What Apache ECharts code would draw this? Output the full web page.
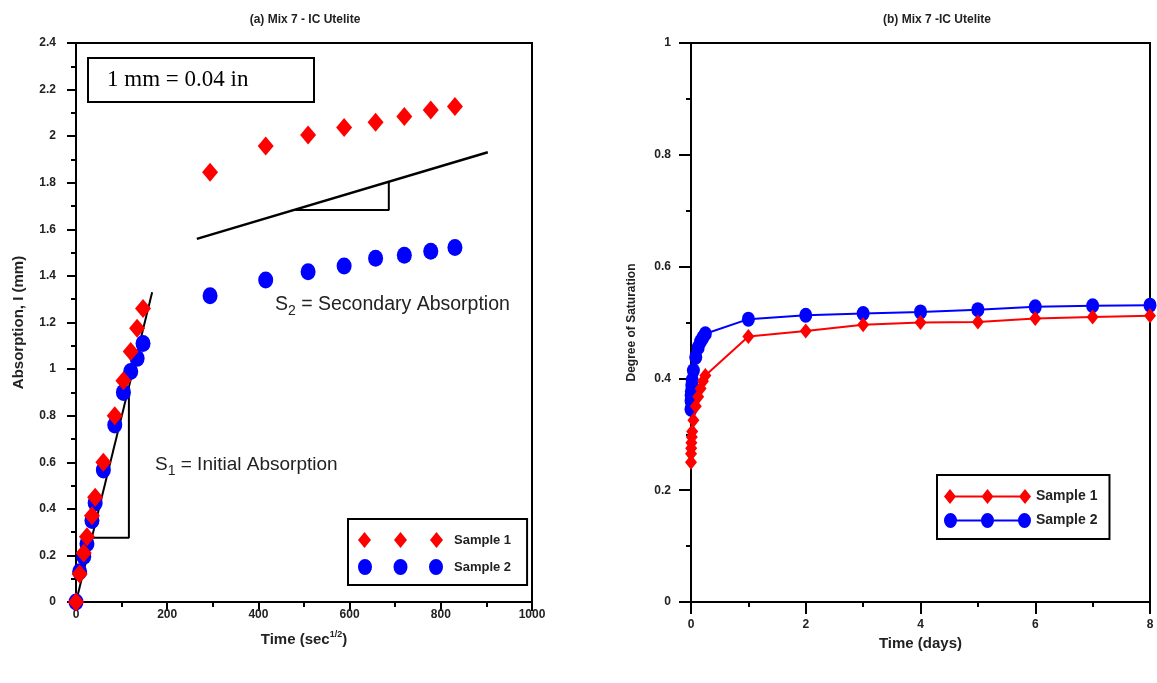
<!DOCTYPE html>
<html>
<head>
<meta charset="utf-8">
<script src="https://cdn.jsdelivr.net/npm/echarts@6/dist/echarts.min.js"></script>
<style>
  html, body { margin: 0; padding: 0; background: #fff; }
  #chart { width: 1157px; height: 683px; }
</style>
</head>
<body>
<div id="chart"></div>
<script>
// (a) Absorption against square root of time
const timeSqrtSec = [0, 8, 17, 24, 35, 42, 60, 85, 104, 120, 134, 147, 294, 416, 509, 588, 657, 720, 778, 831];
const absorptionS1 = [0, 0.12, 0.21, 0.28, 0.37, 0.45, 0.60, 0.80, 0.95, 1.075, 1.175, 1.26, 1.845, 1.958, 2.005, 2.037, 2.06, 2.084, 2.112, 2.127];
const absorptionS2 = [0, 0.13, 0.195, 0.25, 0.35, 0.425, 0.567, 0.76, 0.90, 0.99, 1.046, 1.11, 1.315, 1.382, 1.418, 1.443, 1.476, 1.489, 1.506, 1.522];

// slope guides for the initial and secondary absorption rates
const initialFit = [[0, 0], [167, 1.33]];
const initialTriangle = [[30, 0.276], [116, 0.276], [116, 0.925]];
const secondaryFit = [[265, 1.559], [903, 1.931]];
const secondaryTriangle = [[475, 1.683], [686, 1.683], [686, 1.806]];

// (b) Degree of saturation against time in days
const timeDays = [0, 0.001, 0.003, 0.007, 0.014, 0.021, 0.042, 0.083, 0.125, 0.167, 0.208, 0.25, 1, 2, 3, 4, 5, 6, 7, 8];
const saturationS1 = [0.25, 0.265, 0.275, 0.285, 0.295, 0.305, 0.325, 0.35, 0.367, 0.382, 0.395, 0.405, 0.475, 0.485, 0.496, 0.50, 0.501, 0.507, 0.51, 0.512];
const saturationS2 = [0.345, 0.36, 0.37, 0.377, 0.388, 0.397, 0.414, 0.438, 0.455, 0.466, 0.473, 0.48, 0.506, 0.513, 0.516, 0.519, 0.523, 0.528, 0.53, 0.531];

const xTicksA = [0, 200, 400, 600, 800, 1000];
const yTicksA = [0, 0.2, 0.4, 0.6, 0.8, 1, 1.2, 1.4, 1.6, 1.8, 2, 2.2, 2.4];
const xTicksB = [0, 2, 4, 6, 8];
const yTicksB = [0, 0.2, 0.4, 0.6, 0.8, 1];

const RED = '#ff0000';
const BLUE = '#0000ff';
const SANS = '"Liberation Sans", Arial, sans-serif';
const SERIF = '"Liberation Serif", "Times New Roman", serif';

const zip = (xs, ys) => xs.map((x, i) => [x, ys[i]]);
const plain = (v) => String(Math.round(v * 1000) / 1000);

// legend glyphs: three markers, optionally joined by a line
const diamonds3 = 'path://M0,8 L6.5,0 L13,8 L6.5,16 Z M36,8 L42.5,0 L49,8 L42.5,16 Z M72,8 L78.5,0 L85,8 L78.5,16 Z';
const circles3 = 'path://M0,8 A7,8 0 1 1 14,8 A7,8 0 1 1 0,8 Z M35.5,8 A7,8 0 1 1 49.5,8 A7,8 0 1 1 35.5,8 Z M71,8 A7,8 0 1 1 85,8 A7,8 0 1 1 71,8 Z';
const lineDiamonds3 = 'path://M6,6.5 L81,6.5 L81,8.5 L6,8.5 Z M0,7.5 L6,0 L12,7.5 L6,15 Z M37.5,7.5 L43.5,0 L49.5,7.5 L43.5,15 Z M75,7.5 L81,0 L87,7.5 L81,15 Z';
const lineCircles3 = 'path://M6.5,6.5 L80.5,6.5 L80.5,8.5 L6.5,8.5 Z M0,7.5 A6.5,7.5 0 1 1 13,7.5 A6.5,7.5 0 1 1 0,7.5 Z M37,7.5 A6.5,7.5 0 1 1 50,7.5 A6.5,7.5 0 1 1 37,7.5 Z M74,7.5 A6.5,7.5 0 1 1 87,7.5 A6.5,7.5 0 1 1 74,7.5 Z';

const tickLabel = { fontFamily: SANS, fontWeight: 'bold', fontSize: 12, color: '#222', formatter: plain };
const axisLine = { show: true, onZero: false, lineStyle: { color: '#000', width: 2 } };
const axisTick = { show: true, inside: false, length: 9, lineStyle: { color: '#000', width: 2 } };
const minorTick = { show: true, splitNumber: 2, length: 5, lineStyle: { color: '#000', width: 2 } };

const chart = echarts.init(document.getElementById('chart'), null, { renderer: 'canvas' });

chart.setOption({
  animation: false,
  backgroundColor: '#fff',
  title: [
    { text: '(a) Mix 7 - IC Utelite', left: 300, top: 9, textAlign: 'center',
      textStyle: { fontFamily: SANS, fontWeight: 'bold', fontSize: 12, color: '#222' } },
    { text: '(b) Mix 7 -IC Utelite', left: 932, top: 9, textAlign: 'center',
      textStyle: { fontFamily: SANS, fontWeight: 'bold', fontSize: 12, color: '#222' } }
  ],
  grid: [
    { left: 76, right: 625, top: 43, bottom: 81, show: true, borderColor: '#000', borderWidth: 2, backgroundColor: 'transparent' },
    { left: 691, right: 7, top: 43, bottom: 81, show: true, borderColor: '#000', borderWidth: 2, backgroundColor: 'transparent' }
  ],
  xAxis: [
    {
      gridIndex: 0, type: 'value', min: xTicksA[0], max: xTicksA[xTicksA.length - 1], interval: 200,
      name: 'Time (sec{sup|1/2})', nameLocation: 'middle', nameGap: 28,
      nameTextStyle: { fontFamily: SANS, fontWeight: 'bold', fontSize: 15, color: '#222',
        rich: { sup: { fontFamily: SANS, fontWeight: 'bold', fontSize: 9, color: '#222', verticalAlign: 'top', lineHeight: 20 } } },
      axisLine, axisTick, minorTick,
      axisLabel: Object.assign({ margin: 7 }, tickLabel),
      splitLine: { show: false }
    },
    {
      gridIndex: 1, type: 'value', min: xTicksB[0], max: xTicksB[xTicksB.length - 1], interval: 2,
      name: 'Time (days)', nameLocation: 'middle', nameGap: 31,
      nameTextStyle: { fontFamily: SANS, fontWeight: 'bold', fontSize: 15, color: '#222' },
      axisLine, axisTick: Object.assign({}, axisTick, { length: 12 }), minorTick,
      axisLabel: Object.assign({ margin: 17 }, tickLabel),
      splitLine: { show: false }
    }
  ],
  yAxis: [
    {
      gridIndex: 0, type: 'value', min: yTicksA[0], max: yTicksA[yTicksA.length - 1], interval: 0.2,
      name: 'Absorption, I (mm)', nameLocation: 'middle', nameGap: 50,
      nameTextStyle: { fontFamily: SANS, fontWeight: 'bold', fontSize: 15, color: '#222' },
      axisLine, axisTick, minorTick,
      axisLabel: Object.assign({ margin: 20 }, tickLabel),
      splitLine: { show: false }
    },
    {
      gridIndex: 1, type: 'value', min: yTicksB[0], max: yTicksB[yTicksB.length - 1], interval: 0.2,
      name: 'Degree of Saturation', nameLocation: 'middle', nameGap: 53,
      nameTextStyle: { fontFamily: SANS, fontWeight: 'bold', fontSize: 12, color: '#222' },
      axisLine, axisTick: Object.assign({}, axisTick, { length: 12 }), minorTick,
      axisLabel: Object.assign({ margin: 20 }, tickLabel),
      splitLine: { show: false }
    }
  ],
  legend: [
    {
      orient: 'vertical', left: 348, top: 519,
      padding: [13, 16, 10, 10], itemGap: 11, itemWidth: 85, itemHeight: 16,
      symbolKeepAspect: false,
      borderColor: '#000', borderWidth: 2, backgroundColor: '#fff',
      itemStyle: { borderWidth: 0, opacity: 1 },
      textStyle: { fontFamily: SANS, fontWeight: 'bold', fontSize: 13, color: '#222', padding: [0, 0, 0, 6] },
      data: [
        { name: 'Sample 1', icon: diamonds3 },
        { name: 'Sample 2', icon: circles3 }
      ]
    },
    {
      orient: 'vertical', left: 937, top: 475,
      padding: [14, 12, 11, 7], itemGap: 9, itemWidth: 87, itemHeight: 15,
      symbolKeepAspect: false,
      borderColor: '#000', borderWidth: 2, backgroundColor: '#fff',
      itemStyle: { borderWidth: 0, opacity: 1 },
      textStyle: { fontFamily: SANS, fontWeight: 'bold', fontSize: 14, color: '#222' },
      data: [
        { name: 'Sample 1', icon: lineDiamonds3 },
        { name: 'Sample 2', icon: lineCircles3 }
      ]
    }
  ],
  series: [
    // (a) slope guides
    { name: 'initial slope', type: 'line', xAxisIndex: 0, yAxisIndex: 0, data: initialFit,
      symbol: 'none', lineStyle: { color: '#000', width: 2 }, z: 1, silent: true },
    { name: 'initial triangle', type: 'line', xAxisIndex: 0, yAxisIndex: 0, data: initialTriangle,
      symbol: 'none', lineStyle: { color: '#000', width: 2 }, z: 1, silent: true },
    { name: 'secondary slope', type: 'line', xAxisIndex: 0, yAxisIndex: 0, data: secondaryFit,
      symbol: 'none', lineStyle: { color: '#000', width: 2.5 }, z: 1, silent: true },
    { name: 'secondary triangle', type: 'line', xAxisIndex: 0, yAxisIndex: 0, data: secondaryTriangle,
      symbol: 'none', lineStyle: { color: '#000', width: 2 }, z: 1, silent: true },
    // (a) measured absorption
    { name: 'Sample 2', type: 'scatter', xAxisIndex: 0, yAxisIndex: 0, data: zip(timeSqrtSec, absorptionS2),
      symbol: 'circle', symbolSize: [15, 17], itemStyle: { color: BLUE, opacity: 1 }, z: 2 },
    { name: 'Sample 1', type: 'scatter', xAxisIndex: 0, yAxisIndex: 0, data: zip(timeSqrtSec, absorptionS1),
      symbol: 'diamond', symbolSize: [16, 19], itemStyle: { color: RED, opacity: 1 }, z: 3 },
    // (b) degree of saturation
    { name: 'Sample 2', type: 'line', xAxisIndex: 1, yAxisIndex: 1, data: zip(timeDays, saturationS2),
      symbol: 'circle', symbolSize: [13, 15], showAllSymbol: true,
      itemStyle: { color: BLUE, opacity: 1 }, lineStyle: { color: BLUE, width: 2 }, z: 2 },
    { name: 'Sample 1', type: 'line', xAxisIndex: 1, yAxisIndex: 1, data: zip(timeDays, saturationS1),
      symbol: 'diamond', symbolSize: [12, 15], showAllSymbol: true,
      itemStyle: { color: RED, opacity: 1 }, lineStyle: { color: RED, width: 2 }, z: 3 }
  ],
  graphic: [
    { type: 'rect', left: 87, top: 57, z: 10,
      shape: { width: 226, height: 44 },
      style: { fill: '#fff', stroke: '#000', lineWidth: 2 } },
    { type: 'text', x: 107, y: 80, z: 11,
      style: { text: '1 mm = 0.04 in', fontFamily: SERIF, fontSize: 23, fill: '#000', verticalAlign: 'middle' } },
    { type: 'text', x: 155, y: 465, z: 11,
      style: {
        text: '{a|S}{b|1}{a| = Initial Absorption}', verticalAlign: 'middle',
        rich: {
          a: { fontFamily: SANS, fontSize: 19, fill: '#222', lineHeight: 26 },
          b: { fontFamily: SANS, fontSize: 14, fill: '#222', lineHeight: 18, verticalAlign: 'bottom' }
        }
      } },
    { type: 'text', x: 275, y: 305, z: 11,
      style: {
        text: '{a|S}{b|2}{a| = Secondary Absorption}', verticalAlign: 'middle',
        rich: {
          a: { fontFamily: SANS, fontSize: 19.5, fill: '#222', lineHeight: 26 },
          b: { fontFamily: SANS, fontSize: 14, fill: '#222', lineHeight: 18, verticalAlign: 'bottom' }
        }
      } }
  ]
});
</script>
</body>
</html>
